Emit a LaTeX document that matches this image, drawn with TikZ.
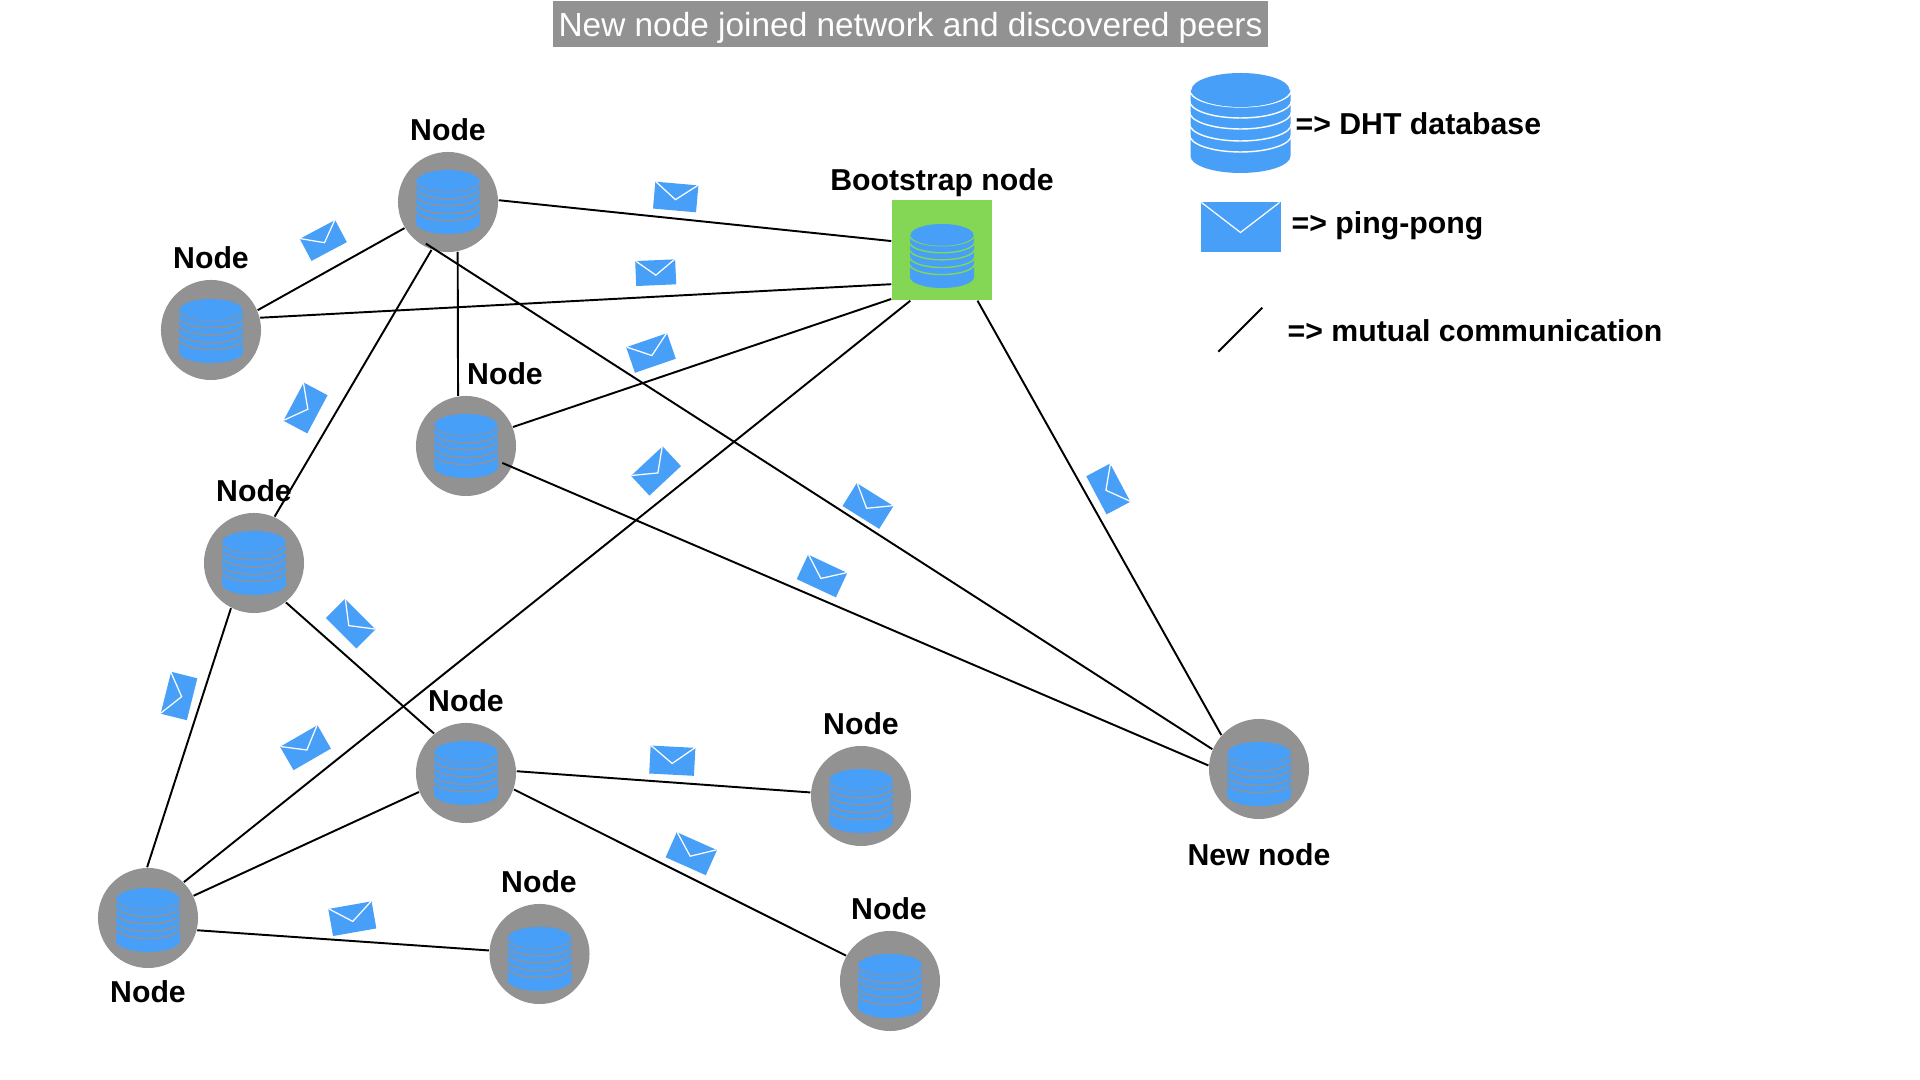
\documentclass[tikz,border=0pt]{standalone}
\usepackage{fontspec}
\setmainfont{Liberation Sans}
\usepackage{tikz}
\usetikzlibrary{calc}

\definecolor{dbblue}{HTML}{479FF8}
\definecolor{nodegray}{HTML}{929292}
\definecolor{bootgreen}{HTML}{83D754}

\tikzset{
  peer/.style={circle,fill=nodegray,minimum size=1cm,inner sep=0pt},
  boot/.style={rectangle,fill=bootgreen,minimum size=1cm,inner sep=0pt},
  lbl/.style={font=\bfseries\fontsize{8.6}{10}\selectfont,inner sep=0pt},
  link/.style={black,line width=0.55pt},
  pics/mail/.style={code={
    \fill[dbblue] (-40,-25) rectangle (40,25);
    \draw[white,line width=0.35pt] (-39,-25) -- (0,5) -- (39,-25);
  }},
  pics/db/.style={code={
    \fill[dbblue] (-50,-33) -- (50,-33) -- (50,33) arc[start angle=0,end angle=180,x radius=50,y radius=17] -- cycle;
    \foreach \yy in {-33,-22,-11,1,12} {
      \draw[#1,line width=0.4pt] (-51,\yy) arc[start angle=180,end angle=0,x radius=51,y radius=17];
    }
    \fill[dbblue] (0,-33) ellipse[x radius=49,y radius=17];
  }},
}

\begin{document}
\begin{tikzpicture}[x=0.01cm,y=-0.01cm]
\useasboundingbox (0,0) rectangle (1920,1080);

% title
\node[fill=nodegray,text=white,font=\fontsize{9.5}{11}\selectfont,text depth=0pt,minimum width=7.15cm,minimum height=0.46cm,inner sep=0pt] (title) at (910.5,24) {New node joined network and discovered peers};

% nodes
\node[peer] (top) at (448,202) {};
\node[peer] (left) at (211,330) {};
\node[peer] (mid) at (466,446) {};
\node[peer] (side) at (254,563) {};
\node[peer] (hub) at (466,773) {};
\node[peer] (right) at (861,796) {};
\node[peer] (corner) at (148,918) {};
\node[peer] (low) at (539.5,954) {};
\node[peer] (far) at (890,981) {};
\node[peer] (new) at (1259,769) {};
\node[boot] (boot) at (942,250) {};

% databases
\foreach \dbname/\dbshift in {top/0,left/1,mid/0,side/0,hub/0,right/5,corner/2,low/5,far/5,new/5}
  \pic[scale=0.64] at ($(\dbname)+(0,\dbshift)$) {db=nodegray};
\pic[scale=0.64] at ($(boot)+(0,6)$) {db=bootgreen};

% links
\draw[link] (top.2) -- (boot.170);
\draw[link] (top.211) -- (left.23);
\draw[link] (left.14) -- (boot.214);
\draw[link] (top.281) -- (mid.99);
\draw[link] (top.251) -- (side.66);
\draw[link] ($(top)!0.93!(top.242)$) -- (new.157);
\draw[link] (mid.22) -- (boot.224);
\draw[link] ($(mid)!0.79!(mid.335)$) -- (new.176);
\draw[link] (boot.238) -- (corner.45);
\draw[link] (boot.305) -- (new.138);
\draw[link] (side.243) -- (corner.91);
\draw[link] (side.309) -- (hub.129);
\draw[link] (hub.202) -- (corner.26);
\draw[link] (hub.2) -- (right.176);
\draw[link] (hub.341) -- (far.150);
\draw[link] (corner.346) -- (low.176);

% mails
\pic[scale=0.54,rotate=-5] at (675.7,197) {mail};
\pic[scale=0.5,rotate=2.5] at (655.7,272.7) {mail};
\pic[scale=0.54,rotate=19] at (651,353) {mail};
\pic[scale=0.5,rotate=28] at (323.3,240.5) {mail};
\pic[scale=0.54,rotate=62] at (305.5,408) {mail};
\pic[scale=0.54,rotate=43] at (656,471) {mail};
\pic[scale=0.54,rotate=-32] at (868,506) {mail};
\pic[scale=0.54,rotate=-25] at (822,576) {mail};
\pic[scale=0.54,rotate=-62] at (1108.3,489) {mail};
\pic[scale=0.54,rotate=-45] at (350.7,623.7) {mail};
\pic[scale=0.54,rotate=76] at (179,696) {mail};
\pic[scale=0.54,rotate=30] at (305.5,747.7) {mail};
\pic[scale=0.56,rotate=-3] at (672.3,760.7) {mail};
\pic[scale=0.55,rotate=-24] at (691.3,853.7) {mail};
\pic[scale=0.55,rotate=10] at (352.3,918.7) {mail};

% labels
\node[lbl] (ltop) at (448,130) {Node};
\node[lbl] (lleft) at (211,258) {Node};
\node[lbl] (lmid) at (505,374) {Node};
\node[lbl] (lside) at (254,491) {Node};
\node[lbl] (lhub) at (466,701) {Node};
\node[lbl] (lright) at (861,724) {Node};
\node[lbl] (lcorner) at (148,992) {Node};
\node[lbl] (llow) at (539,882) {Node};
\node[lbl] (lfar) at (889,909) {Node};
\node[lbl] (lnew) at (1259,855) {New node};
\node[lbl] (lboot) at (942,183) {Bootstrap node};

% legend
\pic at (1240.5,123) {db=white};
\pic at (1240.5,227.5) {mail};
\coordinate (ca) at (1218.3,351.7);
\coordinate (cb) at (1262.3,307.7);
\draw[link] (ca) -- (cb);
\node[lbl,anchor=west] (ldb) at (1295,124) {=> DHT database};
\node[lbl,anchor=west] (lmail) at (1291,225.5) {=> ping-pong};
\node[lbl,anchor=west] (lline) at (1287,331) {=> mutual communication};
\end{tikzpicture}
\end{document}
